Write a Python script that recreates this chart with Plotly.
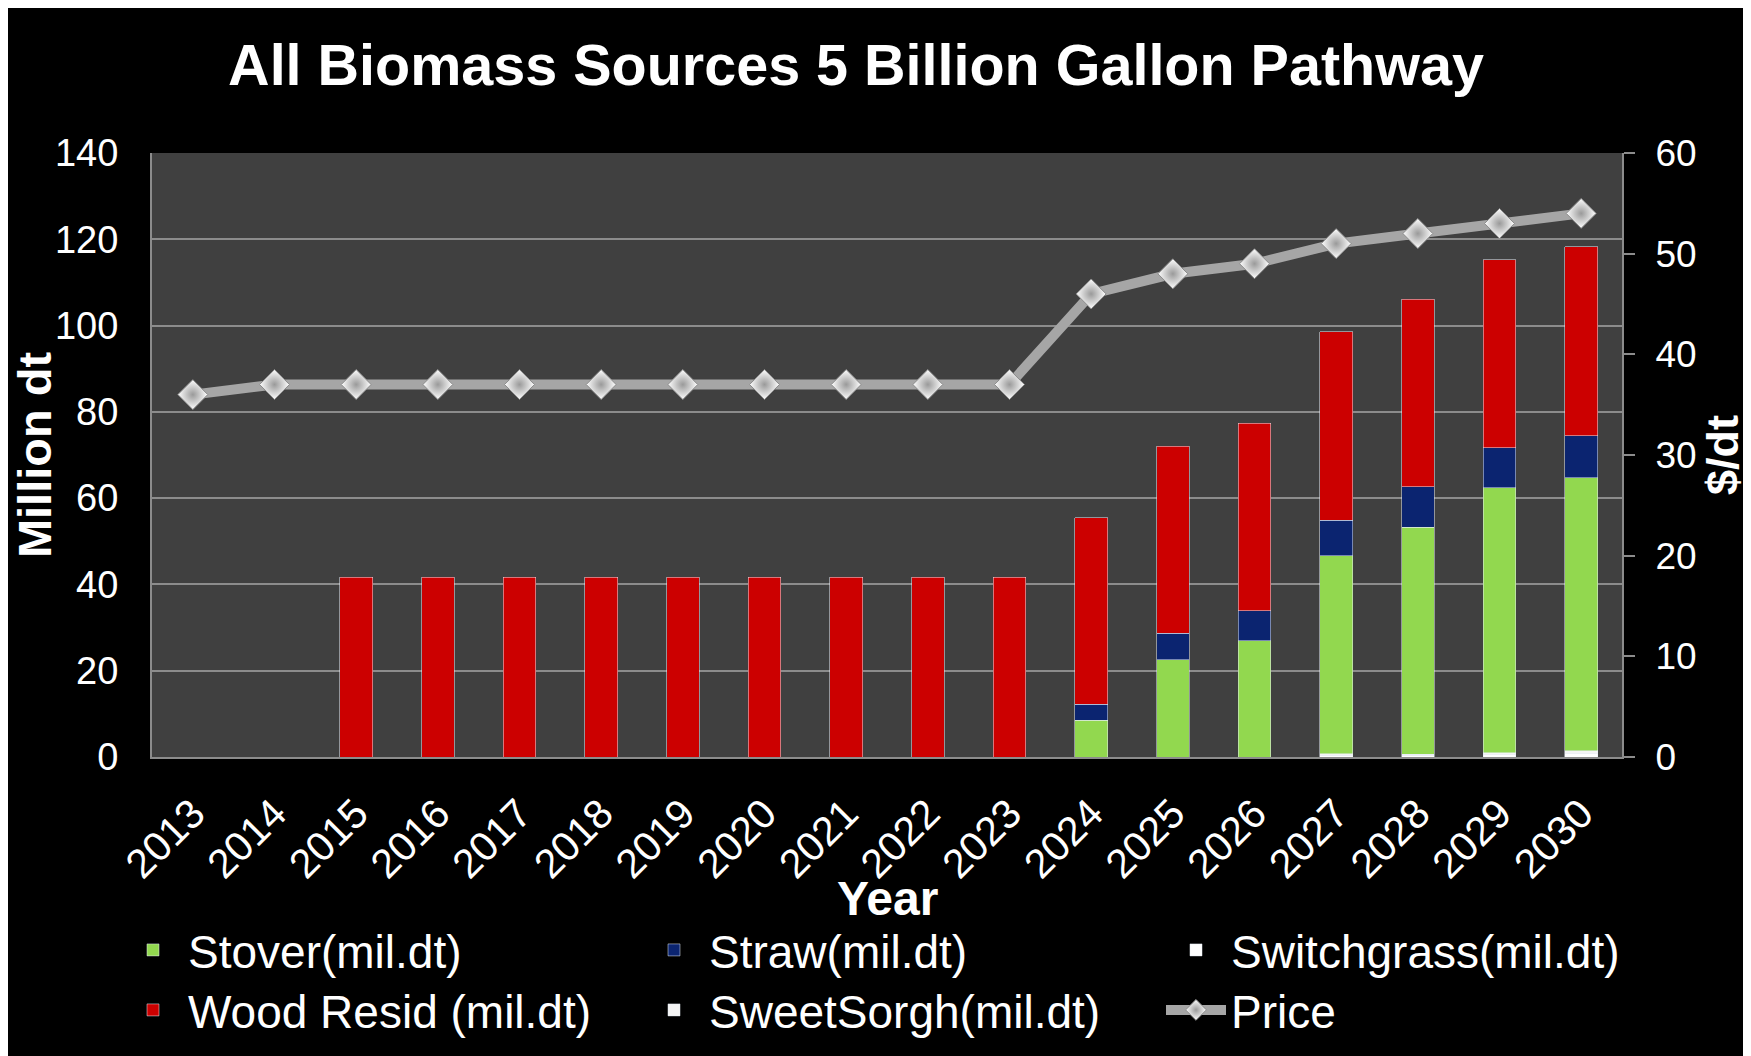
import plotly.graph_objects as go

years = [str(y) for y in range(2013, 2031)]
switchgrass = [0]*14 + [0.4, 0.3, 0.5, 0.7]
sweetsorgh = [0]*14 + [0.3, 0.3, 0.5, 0.7]
stover = [0]*11 + [8.5, 22.5, 26.9, 45.9, 52.7, 61.4, 63.3]
straw = [0]*11 + [3.7, 6.2, 7.0, 8.3, 9.3, 9.3, 9.8]
wood = [0, 0] + [41.7]*9 + [43.2, 43.3, 43.5, 43.7, 43.5, 43.5, 43.8]
price = [36] + [37]*10 + [46, 48, 49, 51, 52, 53, 54]

FONT = "Liberation Sans, Arial, sans-serif"
GRID = "#8c8c8c"
BW = 0.4
W, H = 1751, 1056
ML, MR, MT, MB = 144, 137, 145, 307

fig = go.Figure()
fig.add_trace(go.Bar(x=years, y=switchgrass, name="Switchgrass(mil.dt)", marker_color="#ffffff",
                     width=BW, legend="legend3", showlegend=True))
fig.add_trace(go.Bar(x=years, y=sweetsorgh, name="SweetSorgh(mil.dt)", marker_color="#f4f4f4",
                     width=BW, legend="legend5", showlegend=True))
fig.add_trace(go.Bar(x=years, y=stover, name="Stover(mil.dt)", marker_color="#92d84f",
                     width=BW, legend="legend", showlegend=True))
fig.add_trace(go.Bar(x=years, y=straw, name="Straw(mil.dt)", marker_color="#0b2470",
                     width=BW, legend="legend2", showlegend=True))
fig.add_trace(go.Bar(x=years, y=wood, name="Wood Resid (mil.dt)", marker_color="#cc0000",
                     width=BW, legend="legend4", showlegend=True))
fig.add_trace(go.Scatter(x=years, y=price, name="Price", yaxis="y2", mode="lines+markers",
                         line=dict(color="#a6a6a6", width=10),
                         marker=dict(symbol="diamond", size=23, color="#ffffff",
                                     gradient=dict(type="radial", color="#9a9a9a"),
                                     line=dict(color="#8a8a8a", width=1)),
                         legend="legend6", showlegend=True))

def leg(xpx, ypx):
    return dict(orientation="h", xref="container", yref="container",
                x=xpx/W, y=1 - ypx/H, xanchor="left", yanchor="middle",
                font=dict(family=FONT, size=46, color="white"),
                bgcolor="rgba(0,0,0,0)", itemwidth=60, visible=True)

plot_h = H - MT - MB
plot_w = W - ML - MR

fig.update_layout(
    width=W, height=H,
    paper_bgcolor="black", plot_bgcolor="#404040",
    barmode="stack", showlegend=True,
    margin=dict(l=ML, r=MR, t=MT, b=MB, autoexpand=False),
    font=dict(family=FONT, color="white"),
    title=dict(text="<b>All Biomass Sources 5 Billion Gallon Pathway</b>",
               x=848/W, xanchor="center", xref="container",
               y=1 - 57/H, yanchor="middle", yref="container",
               font=dict(family=FONT, size=57.5, color="white")),
    xaxis=dict(type="category", range=[-0.5, len(years) - 0.5],
               tickangle=-45, tickfont=dict(size=41, color="white"),
               showline=True, linecolor=GRID, linewidth=2, showgrid=False,
               ticks="", ticklabelstandoff=14, automargin=False),
    yaxis=dict(range=[0, 140], dtick=20, tickfont=dict(size=38, color="white"),
               showline=True, linecolor=GRID, linewidth=2, gridcolor=GRID, gridwidth=1.5,
               zeroline=False, ticks="", ticklabelstandoff=24, automargin=False,
               title=dict(text="<b>Million dt</b>", font=dict(size=47, color="white"), standoff=0)),
    yaxis2=dict(range=[0, 60], dtick=10, overlaying="y", side="right",
                tickfont=dict(size=37, color="white"), showgrid=False, zeroline=False,
                showline=True, linecolor=GRID, linewidth=2,
                ticks="outside", ticklen=11, tickcolor=GRID, tickwidth=2,
                ticklabelstandoff=13, automargin=False,
                title=dict(text="<b>$/dt</b>", font=dict(size=45, color="white"), standoff=0)),
    legend=leg(110, 942),
    legend2=leg(631, 942),
    legend3=leg(1153, 942),
    legend4=leg(110, 1002),
    legend5=leg(631, 1002),
    legend6=leg(1153, 1002),
    annotations=[dict(text="<b>Year</b>", xref="paper", yref="paper",
                      x=(879 - ML)/plot_w, y=((H - MB) - 890)/plot_h,
                      xanchor="center", yanchor="middle",
                      showarrow=False, font=dict(family=FONT, size=48, color="white"))],
)

fig.write_html("out.html")
